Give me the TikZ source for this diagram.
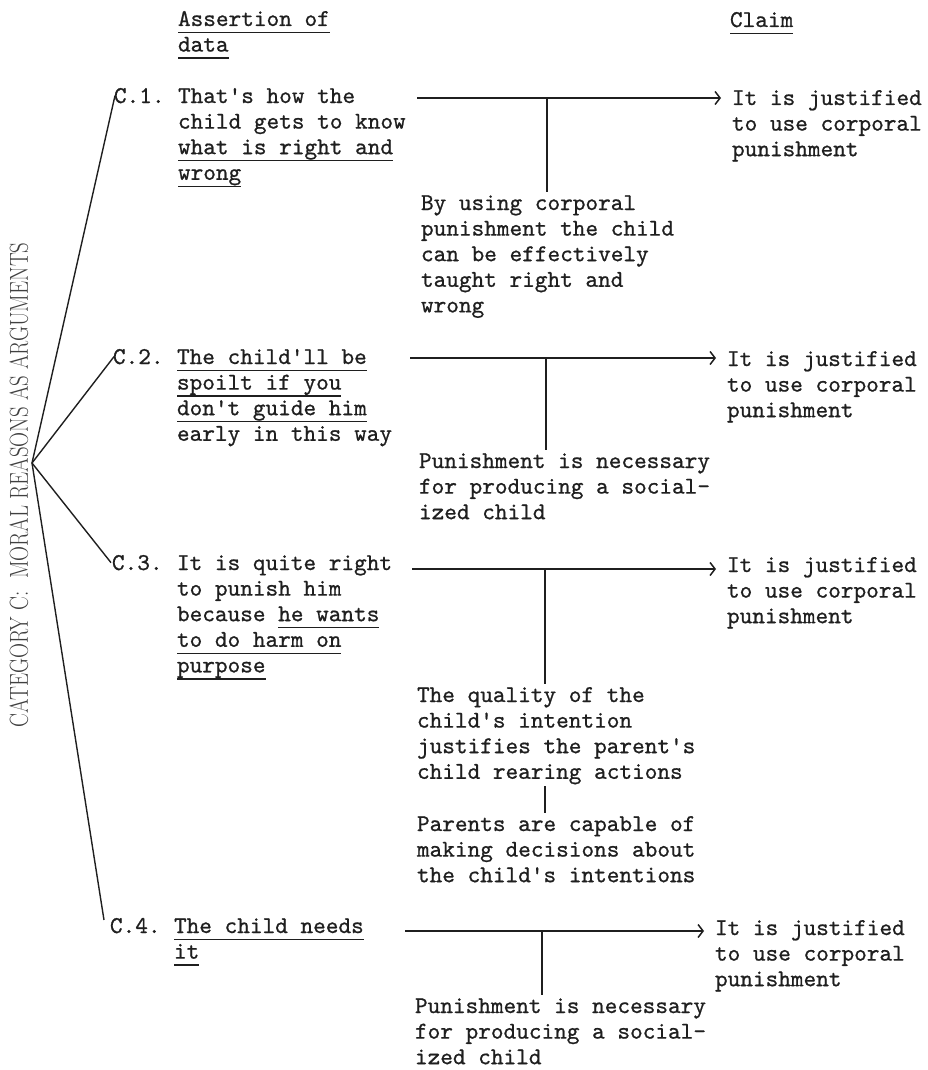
\documentclass[tikz,border=0pt]{standalone}
\usepackage{fontspec}
\usetikzlibrary{arrows.meta}
\definecolor{ink}{gray}{0.12}
% typewriter face of the page, slightly darkened
\newfontfamily\typefam{lmmono10-regular.otf}[FakeBold=0.8]
\newcommand\typed{\fontsize{24.1}{25.6}\selectfont\typefam}
% stacked lines, baseline on the first line
\newcommand\lines[1]{\begin{tabular}[t]{@{}l@{}}#1\end{tabular}}
% typed underline, a little below the baseline
\newsavebox\ulnbox
\newcommand\uln[1]{\sbox\ulnbox{#1}\rlap{\rule[-7.2pt]{\wd\ulnbox}{1.5pt}}\usebox\ulnbox}
\begin{document}
\begin{tikzpicture}[x=1pt,y=-1pt,
  typedtext/.style={anchor=base west, inner sep=0pt, outer sep=0pt, font=\typed, text=ink},
  spoke/.style={draw=ink, line width=1.4pt},
  tie/.style={draw=ink, line width=1.8pt},
  leads/.style={draw=ink, line width=1.5pt, shorten >=11pt,
    -{Straight Barb[length=5pt,width=13pt,line width=1.5pt]}}]
\useasboundingbox (0,0) rectangle (927,1070);

% column heads
\node[typedtext] (hd) at (178,26) {\lines{\uln{Assertion of}\\\uln{data}}};
\node[typedtext] (hc) at (730,27) {\uln{Claim}};

% category label and its spokes
\node[rotate=90, inner sep=0pt, text=ink!85, font=\fontsize{26}{28}\selectfont] (cat) at (19,485)
  {\scalebox{0.8}[1]{CATEGORY C:\ \ MORAL REASONS AS ARGUMENTS}};
\coordinate (hub) at (32,463);

% C.1
\node[typedtext] (c1) at (114,103) {C.1.};
\node[typedtext] (d1) at (178,103) {\lines{That's how the\\child gets to know\\\uln{what is right and}\\\uln{wrong}}};
\node[typedtext] (k1) at (732,105) {\lines{It is justified\\to use corporal\\punishment}};
\node[typedtext] (w1) at (421,210) {\lines{By using corporal\\punishment the child\\can be effectively\\taught right and\\wrong}};
\coordinate (s1) at (417,98);
\coordinate (j1) at (547,98);
\draw[leads] (s1) -- (s1 -| k1.base west);
\draw[tie] (j1) -- (j1 |- w1.north);

% C.2
\node[typedtext] (c2) at (113,364) {C.2.};
\node[typedtext] (d2) at (177,364) {\lines{\uln{The child'll be}\\\uln{spoilt if you}\\\uln{don't guide him}\\early in this way}};
\node[typedtext] (k2) at (727,366) {\lines{It is justified\\to use corporal\\punishment}};
\node[typedtext] (w2) at (419,468) {\lines{Punishment is necessary\\for producing a social-\\ized child}};
\coordinate (s2) at (410,358);
\coordinate (j2) at (546,358);
\draw[leads] (s2) -- (s2 -| k2.base west);
\draw[tie] (j2) -- (j2 |- w2.north);

% C.3
\node[typedtext] (c3) at (112,570) {C.3.};
\node[typedtext] (d3) at (177,570) {\lines{It is quite right\\to punish him\\because \uln{he wants}\\\uln{to do harm on}\\\uln{purpose}}};
\node[typedtext] (k3) at (727,572) {\lines{It is justified\\to use corporal\\punishment}};
\node[typedtext] (w3) at (417,702) {\lines{The quality of the\\child's intention\\justifies the parent's\\child rearing actions}};
\node[typedtext] (w3b) at (417,831) {\lines{Parents are capable of\\making decisions about\\the child's intentions}};
\coordinate (s3) at (412,569);
\coordinate (j3) at (545,569);
\draw[leads] (s3) -- (s3 -| k3.base west);
\draw[tie] (j3) -- (j3 |- w3.north);
\draw[tie] (j3 |- w3.south) -- (j3 |- w3b.north);

% C.4
\node[typedtext] (c4) at (110,933) {C.4.};
\node[typedtext] (d4) at (174,933) {\lines{\uln{The child needs}\\\uln{it}}};
\node[typedtext] (k4) at (715,935) {\lines{It is justified\\to use corporal\\punishment}};
\node[typedtext] (w4) at (415,1013) {\lines{Punishment is necessary\\for producing a social-\\ized child}};
\coordinate (s4) at (405,931);
\coordinate (j4) at (542,931);
\draw[leads] (s4) -- (s4 -| k4.base west);
\draw[tie] (j4) -- (j4 |- w4.north);

% spokes from the category to each argument
\draw[spoke] (hub) -- ([xshift=1pt]c1.west);
\draw[spoke] (hub) -- ([xshift=1pt]c2.west);
\draw[spoke] (hub) -- ([xshift=-1pt]c3.west);
\draw[spoke] (hub) -- ([shift={(-6,2)}]c4.north west);
\end{tikzpicture}
\end{document}
